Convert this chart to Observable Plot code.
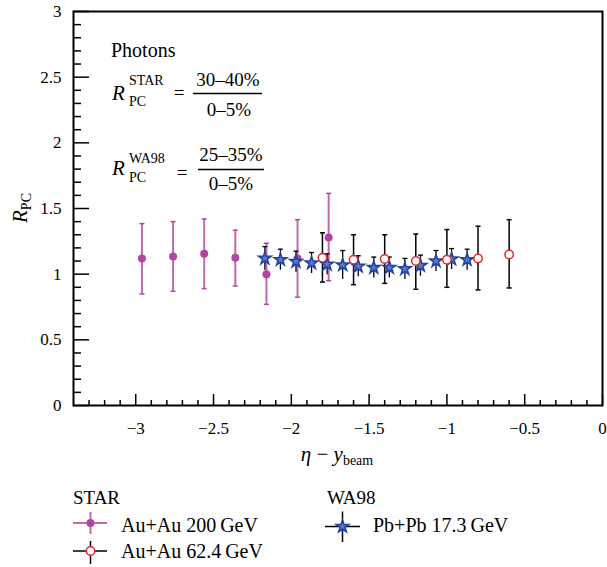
<!DOCTYPE html>
<html><head><meta charset="utf-8">
<script src="https://cdn.jsdelivr.net/npm/d3@7"></script>
<script src="https://cdn.jsdelivr.net/npm/@observablehq/plot@0.6"></script>
<style>
body{margin:0;background:#fff;}
#chart{width:607px;height:567px;overflow:hidden;}
#chart svg{display:block;}
#chart, #chart svg, #chart svg text, #chart svg tspan { font-family: "Liberation Serif", "Times New Roman", Times, "DejaVu Serif", serif !important; }
</style>
</head><body><div id="chart"></div>
<script>
// ---- data ----
const star200_x  = [-2.96, -2.76, -2.56, -2.36, -2.16, -1.96, -1.76];
const star200_y  = [1.12, 1.135, 1.155, 1.125, 1.0, 1.12, 1.28];
const star200_lo = [0.85, 0.87, 0.89, 0.91, 0.77, 0.825, 0.95];
const star200_hi = [1.385, 1.40, 1.42, 1.335, 1.235, 1.415, 1.615];

const star62_x  = [-1.80, -1.60, -1.40, -1.20, -1.00, -0.80, -0.60];
const star62_y  = [1.125, 1.11, 1.115, 1.10, 1.11, 1.12, 1.15];
const star62_lo = [0.94, 0.92, 0.93, 0.885, 0.90, 0.88, 0.895];
const star62_hi = [1.315, 1.30, 1.30, 1.305, 1.34, 1.365, 1.415];

const wa98_x   = [-2.17, -2.07, -1.97, -1.87, -1.77, -1.67, -1.57, -1.47, -1.37, -1.27, -1.17, -1.07, -0.97, -0.87];
const wa98_y   = [1.12, 1.11, 1.095, 1.085, 1.075, 1.07, 1.06, 1.05, 1.05, 1.04, 1.065, 1.10, 1.115, 1.11];
const wa98_err = [0.09, 0.08, 0.08, 0.08, 0.08, 0.11, 0.08, 0.08, 0.08, 0.08, 0.08, 0.08, 0.08, 0.08];

const xTicks = [-3, -2.5, -2, -1.5, -1, -0.5, 0];
const yTicks = [0, 0.5, 1, 1.5, 2, 2.5, 3];
const xDomain = [-3.4, 0];
const yDomain = [0, 3];

const seriesNames = {
  starGroup: "STAR", s200: "Au+Au 200\u2009GeV", s62: "Au+Au 62.4\u2009GeV",
  waGroup: "WA98", wa: "Pb+Pb 17.3\u2009GeV"
};

// ---- tables ----
const d200 = star200_x.map((x, i) => ({x, y: star200_y[i], lo: star200_lo[i], hi: star200_hi[i]}));
const d62 = star62_x.map((x, i) => ({x, y: star62_y[i], lo: star62_lo[i], hi: star62_hi[i]}));
const dwa = wa98_x.map((x, i) => ({x, y: wa98_y[i], lo: wa98_y[i] - wa98_err[i], hi: wa98_y[i] + wa98_err[i]}));

const xMinor = d3.range(-33, 0).map(v => v / 10).filter(v => Math.abs(v * 2 - Math.round(v * 2)) > 1e-6);
const yMinor = d3.range(1, 30).map(v => v / 10).filter(v => Math.abs(v * 2 - Math.round(v * 2)) > 1e-6);

const W = 607, H = 475, mL = 73, mR = 5, mT = 11, mB = 70;
const innerW = W - mL - mR, innerH = H - mT - mB;

const MAG = "#b2459e", RED = "#e5262b", BLUE_F = "#5f7acb", BLUE_S = "#25449f";
const capSym = {draw(ctx) { ctx.moveTo(-2.5, 0); ctx.lineTo(2.5, 0); }};
const fmt = d3.format("");
const FF = "Liberation Serif, Times New Roman, serif";

const plot = Plot.plot({
  width: W, height: H,
  marginLeft: mL, marginRight: mR, marginTop: mT, marginBottom: mB,
  style: {fontFamily: FF, fontSize: "17px", color: "black", background: "white"},
  x: {domain: xDomain},
  y: {domain: yDomain},
  marks: [
    Plot.ruleX(xMinor, {x: d => d, insetTop: innerH - 5, stroke: "black", strokeWidth: 1.5}),
    Plot.ruleX(xTicks, {x: d => d, insetTop: innerH - 11, stroke: "black", strokeWidth: 1.5}),
    Plot.ruleY(yMinor, {y: d => d, insetRight: innerW - 8, stroke: "black", strokeWidth: 1.5}),
    Plot.ruleY(yTicks, {y: d => d, insetRight: innerW - 16, stroke: "black", strokeWidth: 1.5}),
    Plot.axisX({ticks: xTicks, tickSize: 0, tickPadding: 16, tickFormat: fmt, label: null}),
    Plot.axisY({ticks: yTicks, tickSize: 0, tickPadding: 12, tickFormat: fmt, label: null}),
    // STAR 200 GeV
    Plot.ruleX(d200, {x: "x", y1: "lo", y2: "hi", stroke: MAG, strokeWidth: 2, strokeOpacity: 0.8}),
    Plot.dot(d200, {x: "x", y: "lo", symbol: capSym, stroke: MAG, fill: "none", strokeWidth: 1.5}),
    Plot.dot(d200, {x: "x", y: "hi", symbol: capSym, stroke: MAG, fill: "none", strokeWidth: 1.5}),
    Plot.dot(d200, {x: "x", y: "y", r: 4, fill: MAG, stroke: "none"}),
    // STAR 62.4 GeV bars
    Plot.ruleX(d62, {x: "x", y1: "lo", y2: "hi", stroke: "black", strokeWidth: 1.5}),
    Plot.dot(d62, {x: "x", y: "lo", symbol: capSym, stroke: "black", fill: "none", strokeWidth: 1.5}),
    Plot.dot(d62, {x: "x", y: "hi", symbol: capSym, stroke: "black", fill: "none", strokeWidth: 1.5}),
    // WA98
    Plot.ruleX(dwa, {x: "x", y1: "lo", y2: "hi", stroke: "black", strokeWidth: 1.3}),
    Plot.dot(dwa, {x: "x", y: "hi", symbol: capSym, stroke: "black", fill: "none", strokeWidth: 1.3}),
    Plot.dot(dwa, {x: "x", y: "y", r: 3.9, symbol: "star", fill: BLUE_F, stroke: BLUE_S, strokeWidth: 1.6}),
    // STAR 62.4 points
    Plot.dot(d62, {x: "x", y: "y", r: 4.2, fill: "white", stroke: RED, strokeWidth: 1.5}),
    Plot.frame({stroke: "black", strokeWidth: 2})
  ]
});

const chart = document.getElementById("chart");
chart.appendChild(plot);

// ---- annotations ----
const svg = d3.select(plot);
const g = svg.append("g").attr("fill", "black").attr("text-anchor", "start");
function txt(x, y, s, size, opts = {}) {
  const t = g.append("text").attr("x", x).attr("y", y).style("font-size", size + "px")
    .attr("text-anchor", opts.anchor || "start").text(s);
  if (opts.italic) t.style("font-style", "italic");
  return t;
}
txt(111, 57, "Photons", 20);
// R_PC^STAR
txt(112, 100, "R", 21, {italic: true});
txt(129, 85, "STAR", 14);
txt(129, 106, "PC", 14);
txt(179, 99, "=", 19, {anchor: "middle"});
g.append("line").attr("x1", 193).attr("x2", 262).attr("y1", 93.5).attr("y2", 93.5).attr("stroke", "black").attr("stroke-width", 1.6);
txt(228, 86, "30\u201340%", 19, {anchor: "middle"});
txt(229, 116, "0\u20135%", 19, {anchor: "middle"});
// R_PC^WA98
txt(112, 175, "R", 21, {italic: true});
txt(129, 163, "WA98", 14);
txt(129, 182, "PC", 14);
txt(182, 179, "=", 19, {anchor: "middle"});
g.append("line").attr("x1", 198).attr("x2", 264).attr("y1", 169.5).attr("y2", 169.5).attr("stroke", "black").attr("stroke-width", 1.6);
txt(231, 161, "25\u201335%", 19, {anchor: "middle"});
txt(231, 190, "0\u20135%", 19, {anchor: "middle"});

// y-axis title
const yt = g.append("text").attr("transform", "translate(27,208) rotate(-90)").attr("text-anchor", "middle").style("font-size", "21px");
yt.append("tspan").style("font-style", "italic").text("R");
yt.append("tspan").style("font-size", "14px").attr("dy", 4).text("PC");
// x-axis title
const xt = g.append("text").attr("x", 337).attr("y", 461).attr("text-anchor", "middle").style("font-size", "21px");
xt.append("tspan").style("font-style", "italic").text("\u03B7");
xt.append("tspan").text(" \u2212 ");
xt.append("tspan").style("font-style", "italic").text("y");
xt.append("tspan").style("font-size", "14px").attr("dy", 4).text("beam");

// ---- legend below the plot ----
const L = d3.select(chart).append("svg").attr("width", W).attr("height", 567 - H)
  .style("font-size", "20px");
const oy = H;
L.append("text").attr("x", 73).attr("y", 504 - oy).style("font-size", "19px").text(seriesNames.starGroup);
L.append("text").attr("x", 327).attr("y", 504 - oy).style("font-size", "19px").text(seriesNames.waGroup);
// 200 GeV
L.append("line").attr("x1", 73).attr("x2", 107).attr("y1", 523 - oy).attr("y2", 523 - oy).attr("stroke", MAG).attr("stroke-width", 2).attr("stroke-opacity", 0.8);
L.append("line").attr("x1", 90.5).attr("x2", 90.5).attr("y1", 512 - oy).attr("y2", 534 - oy).attr("stroke", MAG).attr("stroke-width", 2).attr("stroke-opacity", 0.8);
L.append("circle").attr("cx", 90.5).attr("cy", 523 - oy).attr("r", 4).attr("fill", MAG);
L.append("text").attr("x", 121).attr("y", 531.5 - oy).text(seriesNames.s200);
// 62.4 GeV
L.append("line").attr("x1", 73).attr("x2", 107).attr("y1", 551 - oy).attr("y2", 551 - oy).attr("stroke", "black").attr("stroke-width", 1.5);
L.append("line").attr("x1", 90.5).attr("x2", 90.5).attr("y1", 541 - oy).attr("y2", 564 - oy).attr("stroke", "black").attr("stroke-width", 1.5);
L.append("circle").attr("cx", 90.5).attr("cy", 551 - oy).attr("r", 4.2).attr("fill", "white").attr("stroke", RED).attr("stroke-width", 1.5);
L.append("text").attr("x", 121).attr("y", 557.5 - oy).text(seriesNames.s62);
// WA98
L.append("line").attr("x1", 325).attr("x2", 360).attr("y1", 526.5 - oy).attr("y2", 526.5 - oy).attr("stroke", "black").attr("stroke-width", 1.5);
L.append("line").attr("x1", 342.5).attr("x2", 342.5).attr("y1", 511.5 - oy).attr("y2", 542 - oy).attr("stroke", "black").attr("stroke-width", 1.5);
L.append("path").attr("d", d3.symbol(d3.symbolStar, Math.PI * 3.9 * 3.9)()).attr("transform", `translate(342.5,${526.5 - oy})`)
  .attr("fill", BLUE_F).attr("stroke", BLUE_S).attr("stroke-width", 1.6);
L.append("text").attr("x", 373).attr("y", 531.5 - oy).text(seriesNames.wa);
</script></body></html>
